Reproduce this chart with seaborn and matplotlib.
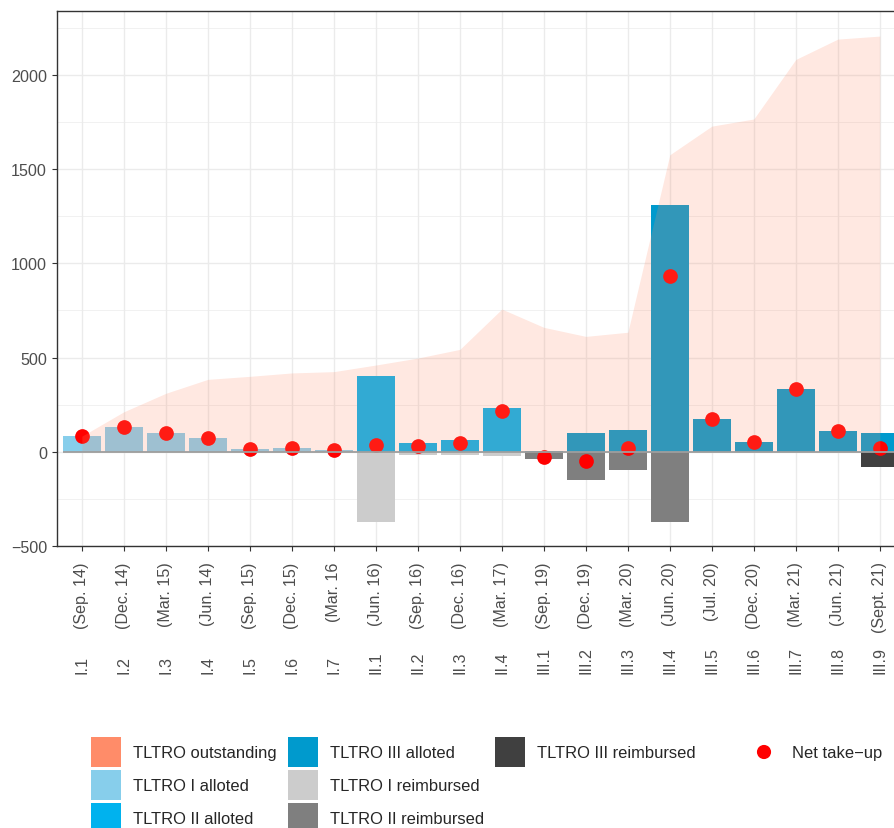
import matplotlib
matplotlib.use("Agg")
import matplotlib.pyplot as plt
import matplotlib.transforms as mtransforms
from matplotlib.patches import Patch, Circle
from matplotlib.legend_handler import HandlerPatch
from matplotlib.ticker import MultipleLocator
import numpy as np
import pandas as pd
import seaborn as sns

# ---------------- data (EUR bn) ----------------
operations = ["I.1", "I.2", "I.3", "I.4", "I.5", "I.6", "I.7",
              "II.1", "II.2", "II.3", "II.4",
              "III.1", "III.2", "III.3", "III.4", "III.5", "III.6", "III.7", "III.8", "III.9"]
dates = ["(Sep. 14)", "(Dec. 14)", "(Mar. 15)", "(Jun. 14)", "(Sep. 15)", "(Dec. 15)", "(Mar. 16",
         "(Jun. 16)", "(Sep. 16)", "(Dec. 16)", "(Mar. 17)",
         "(Sep. 19)", "(Dec. 19)", "(Mar. 20)", "(Jun. 20)", "(Jul. 20)", "(Dec. 20)",
         "(Mar. 21)", "(Jun. 21)", "(Sept. 21)"]
alloted = [82.6, 129.8, 97.8, 73.8, 15.5, 18.3, 7.3,
           399.3, 45.3, 62.2, 233.5,
           3.4, 98.0, 115.0, 1308.4, 174.5, 50.4, 330.5, 109.8, 97.6]
alloted_series = ["TLTRO I alloted"] * 7 + ["TLTRO II alloted"] * 4 + ["TLTRO III alloted"] * 9
reimbursed = [0, 0, 0, 0, 0, 0, 0,
              -371, -16, -16, -23,
              -37, -149, -95, -375, 0, 0, 0, 0, -79]
reimbursed_series = ["TLTRO I reimbursed"] * 11 + ["TLTRO II reimbursed"] * 8 + ["TLTRO III reimbursed"]
net_takeup = [82.6, 129.8, 97.8, 73.8, 15.5, 18.3, 7.3,
              35, 32, 46, 214,
              -30, -51, 21, 934, 174.5, 50.4, 330.5, 109.8, 18]
outstanding = [82.6, 212, 310, 384, 400, 418, 425,
               460, 497, 543, 757,
               660, 612, 634, 1576, 1728, 1766, 2082, 2190, 2206]

colors = {
    "TLTRO outstanding": "#FF8C69",
    "TLTRO I alloted": "#87CEEB",
    "TLTRO II alloted": "#00B2EE",
    "TLTRO III alloted": "#009ACD",
    "TLTRO I reimbursed": "#CCCCCC",
    "TLTRO II reimbursed": "#7F7F7F",
    "TLTRO III reimbursed": "#404040",
}
bar_series = list(colors)[1:]

# long table for the bars, zero rows dropped
rows = []
for op, v, s in zip(operations, alloted, alloted_series):
    rows.append((op, v, s))
for op, v, s in zip(operations, reimbursed, reimbursed_series):
    if v != 0:
        rows.append((op, v, s))
bars = pd.DataFrame(rows, columns=["operation", "value", "series"])

# ---------------- style ----------------
sns.set_theme(style="white")
plt.rcParams["font.family"] = ["Liberation Sans", "DejaVu Sans"]
FS = 11.6
LFS = 11.85
W, H = 894, 829

fig = plt.figure(figsize=(W / 100, H / 100), dpi=100)
fig.patch.set_facecolor("white")
ax = fig.add_axes([56.7 / W, 1 - 547 / H, (905 - 56.7) / W, (547 - 12.3) / H])

bar_width = 0.9
n = len(operations)
x = np.arange(n)

sns.barplot(data=bars, x="operation", y="value", hue="series", order=operations,
            hue_order=bar_series, palette=colors, dodge=False, width=bar_width,
            saturation=1, errorbar=None, linewidth=0, legend=False, ax=ax, zorder=2)
sns.scatterplot(x=x, y=net_takeup, color="red", s=112, linewidth=0, ax=ax, zorder=3)
ax.fill_between(x, 0, outstanding, color=colors["TLTRO outstanding"], alpha=0.2, lw=0, zorder=4)
ax.hlines(0, -bar_width / 2, n - 1 + bar_width / 2, color="#9E9E9E", lw=1.3, zorder=5)

ax.set_xlim(-0.6, n - 1 + 0.6)
ax.set_ylim(-500.5, 2337.6)
ax.set_xlabel("")
ax.set_ylabel("")

ax.set_yticks(np.arange(-500, 2001, 500))
ax.yaxis.set_minor_locator(MultipleLocator(250))
ax.set_xticks(x)
ax.set_xticklabels(dates, rotation=90, fontsize=FS, color="#4D4D4D")
ax.tick_params(axis="y", labelsize=FS, labelcolor="#4D4D4D")
ax.tick_params(axis="x", which="major", bottom=True, length=3.8, width=0.8, color="#333333", pad=7.2)
ax.tick_params(axis="y", which="major", left=True, length=3.8, width=0.8, color="#333333", pad=3.2)
ax.tick_params(which="minor", length=0)

ax.set_axisbelow(True)
ax.grid(which="major", color="#EBEBEB", lw=1.0)
ax.grid(which="minor", axis="y", color="#EBEBEB", lw=0.5)
for sp in ax.spines.values():
    sp.set_visible(True)
    sp.set_color("#333333")
    sp.set_linewidth(1.0)

# operation ids under the dates
trans = mtransforms.blended_transform_factory(ax.transData, fig.transFigure)
for xi, op in zip(x, operations):
    ax.text(xi, 1 - 674 / H, op, rotation=90, rotation_mode="anchor", ha="left", va="center",
            fontsize=FS, color="#4D4D4D", transform=trans, clip_on=False)

# legends (square 30px keys)
fs_px = LFS * 100 / 72
key_w = 30 / fs_px
key_h = (30 / fs_px - 0.245) / 0.65
fill_handles = [Patch(facecolor=colors[k], edgecolor="none", label=k) for k in colors]
fill_handles += [Patch(visible=False, label=" "), Patch(visible=False, label=" ")]
leg1 = fig.legend(handles=fill_handles, ncol=3, loc="upper left",
                  bbox_to_anchor=(91 / W, 1 - 738 / H), bbox_transform=fig.transFigure,
                  frameon=False, borderpad=0, borderaxespad=0, fontsize=LFS,
                  handlelength=key_w, handleheight=key_h, handletextpad=0.7,
                  columnspacing=0.72, labelspacing=0.17)


def dot_key(legend, orig_handle, xdescent, ydescent, width, height, fontsize):
    # red dot centred in the key box
    return Circle((width / 2 - xdescent, height / 2 - ydescent), radius=5.1)


dot_handle = Patch(facecolor="red", edgecolor="none", label="Net take\u2212up")
leg2 = fig.legend(handles=[dot_handle], loc="upper left",
                  bbox_to_anchor=(749 / W, 1 - 738 / H), bbox_transform=fig.transFigure,
                  frameon=False, borderpad=0, borderaxespad=0, fontsize=LFS,
                  handlelength=key_w, handleheight=key_h, handletextpad=0.76,
                  handler_map={dot_handle: HandlerPatch(patch_func=dot_key)})

fig.savefig("out.png", dpi=100)
